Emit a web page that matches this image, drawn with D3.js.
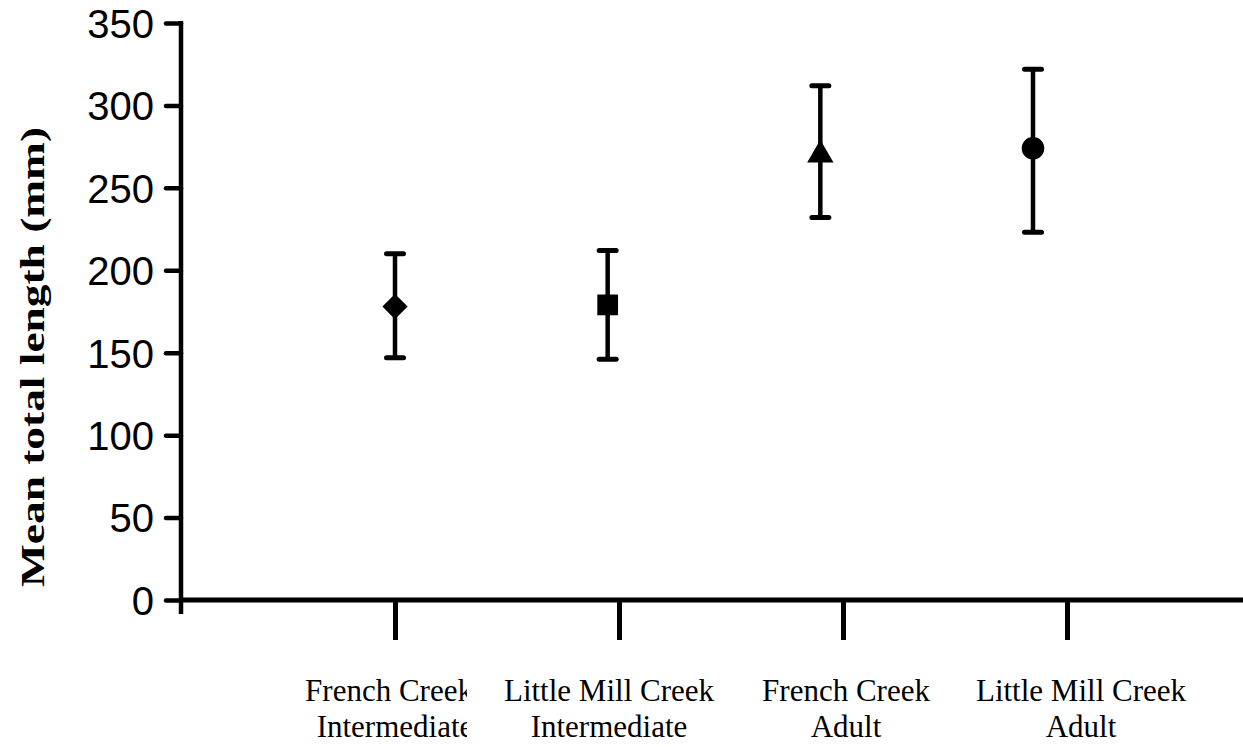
<!DOCTYPE html>
<html>
<head>
<meta charset="utf-8">
<script src="https://cdn.jsdelivr.net/npm/d3@7"></script>
<style>
  body { margin: 0; background: #fff; }
  svg { display: block; }
  .yaxis text { font-family: "Liberation Sans", Arial, sans-serif; font-size: 40px; fill: #000; }
  .catlabel { font-family: "Liberation Serif", "Times New Roman", serif; font-size: 31px; fill: #000; }
  .ytitle { font-family: "Liberation Serif", "Times New Roman", serif; font-size: 34px; font-weight: bold; fill: #000; }
</style>
</head>
<body>
<div id="plotDiv"></div>
<script>
// data
var groups = ["FC-I", "LMC-I", "FC-A", "LMC-A"];
var labelLine1 = ["French Creek", "Little Mill Creek", "French Creek", "Little Mill Creek"];
var labelLine2 = ["Intermediate", "Intermediate", "Adult", "Adult"];
var means = [178, 179, 270, 274];
var upper = [210, 212, 312, 322];
var lower = [147, 146, 232, 223];
var markers = ["diamond", "square", "triangle", "circle"];
var yTicks = [0, 50, 100, 150, 200, 250, 300, 350];

window.addEventListener("load", makeChart)

function makeChart() {
    var widthSVG = 1243;
    var heightSVG = 747;
    var margin = {top: 23, left: 181, bottom: 147};

    var svg = d3.select('#plotDiv')
        .append('svg')
        .attr('width', widthSVG)
        .attr('height', heightSVG);

    var y = d3.scaleLinear()
        .domain([0, 350])
        .range([heightSVG - margin.bottom, margin.top]);

    // the category ticks and the plotted points don't line up exactly in the original
    var xTick = d3.scalePoint()
        .domain(groups)
        .range([395, 1067]);
    var xPt = d3.scalePoint()
        .domain(groups)
        .range([395, 1033]);

    var y0 = y(0);

    // y axis
    var yAxis = svg.append('g')
        .attr('class', 'yaxis')
        .attr('transform', 'translate(' + margin.left + ',0)')
        .call(d3.axisLeft(y).tickValues(yTicks).tickSize(15).tickPadding(12));
    yAxis.select('.domain').remove();
    yAxis.selectAll('.tick line')
        .attr('stroke', '#000')
        .attr('stroke-width', 4.5)
        .attr('stroke-linecap', 'round');
    yAxis.selectAll('.tick text').attr('dy', '0.36em');

    svg.append('line')
        .attr('x1', margin.left).attr('x2', margin.left)
        .attr('y1', y(350) - 2).attr('y2', y0 + 14)
        .attr('stroke', '#000')
        .attr('stroke-width', 4.5);

    // x axis
    svg.append('line')
        .attr('x1', margin.left).attr('x2', widthSVG)
        .attr('y1', y0).attr('y2', y0)
        .attr('stroke', '#000')
        .attr('stroke-width', 5);

    var xAxis = svg.append('g')
        .attr('transform', 'translate(0,' + y0 + ')')
        .call(d3.axisBottom(xTick).tickSize(40).tickFormat(''));
    xAxis.select('.domain').remove();
    xAxis.selectAll('.tick line')
        .attr('stroke', '#000')
        .attr('stroke-width', 5);

    // first label is cut off on the right in the original
    svg.append('clipPath')
        .attr('id', 'clipFirst')
        .append('rect')
        .attr('x', 250).attr('y', 650)
        .attr('width', 217).attr('height', 100);

    var labels = svg.append('g')
        .selectAll('text')
        .data(groups)
        .enter()
        .append('text')
        .attr('class', 'catlabel')
        .attr('text-anchor', 'middle')
        .attr('clip-path', function(d, i) { return i === 0 ? 'url(#clipFirst)' : null; });
    labels.append('tspan')
        .attr('x', function(d, i) { return xTick(d) + [-6, -10, 3, 14][i]; })
        .attr('y', 701)
        .text(function(d, i) { return labelLine1[i]; });
    labels.append('tspan')
        .attr('x', function(d, i) { return xTick(d) + [0, -10, 3, 14][i]; })
        .attr('y', 737)
        .text(function(d, i) { return labelLine2[i]; });

    // y title, stretched along its length like the original
    svg.append('text')
        .attr('class', 'ytitle')
        .attr('text-anchor', 'middle')
        .attr('transform', 'translate(44,357) rotate(-90)')
        .attr('textLength', 460)
        .attr('lengthAdjust', 'spacingAndGlyphs')
        .text('Mean total length (mm)');

    // error bars
    var bars = svg.append('g');
    bars.selectAll('.stem')
        .data(groups)
        .enter()
        .append('line')
        .attr('x1', function(d) { return xPt(d); })
        .attr('x2', function(d) { return xPt(d); })
        .attr('y1', function(d, i) { return y(upper[i]); })
        .attr('y2', function(d, i) { return y(lower[i]); })
        .attr('stroke', '#000')
        .attr('stroke-width', 4.5);

    var caps = [];
    groups.forEach(function(d, i) {
        caps.push({g: d, v: upper[i]});
        caps.push({g: d, v: lower[i]});
    });
    bars.selectAll('.cap')
        .data(caps)
        .enter()
        .append('line')
        .attr('x1', function(c) { return xPt(c.g) - 8.5; })
        .attr('x2', function(c) { return xPt(c.g) + 8.5; })
        .attr('y1', function(c) { return y(c.v); })
        .attr('y2', function(c) { return y(c.v); })
        .attr('stroke', '#000')
        .attr('stroke-width', 5)
        .attr('stroke-linecap', 'round');

    // markers (diamond = square turned 45 degrees)
    var symbolTypes = {
        diamond: d3.symbolSquare,
        square: d3.symbolSquare,
        triangle: d3.symbolTriangle,
        circle: d3.symbolCircle
    };
    var symbolSizes = {diamond: 320, square: 430, triangle: 300, circle: 400};

    svg.append('g')
        .selectAll('path')
        .data(groups)
        .enter()
        .append('path')
        .attr('transform', function(d, i) {
            var t = 'translate(' + xPt(d) + ',' + y(means[i]) + ')';
            return markers[i] === 'diamond' ? t + ' rotate(45)' : t;
        })
        .attr('d', function(d, i) {
            return d3.symbol().type(symbolTypes[markers[i]]).size(symbolSizes[markers[i]])();
        })
        .attr('fill', '#000');
}
</script>
</body>
</html>
